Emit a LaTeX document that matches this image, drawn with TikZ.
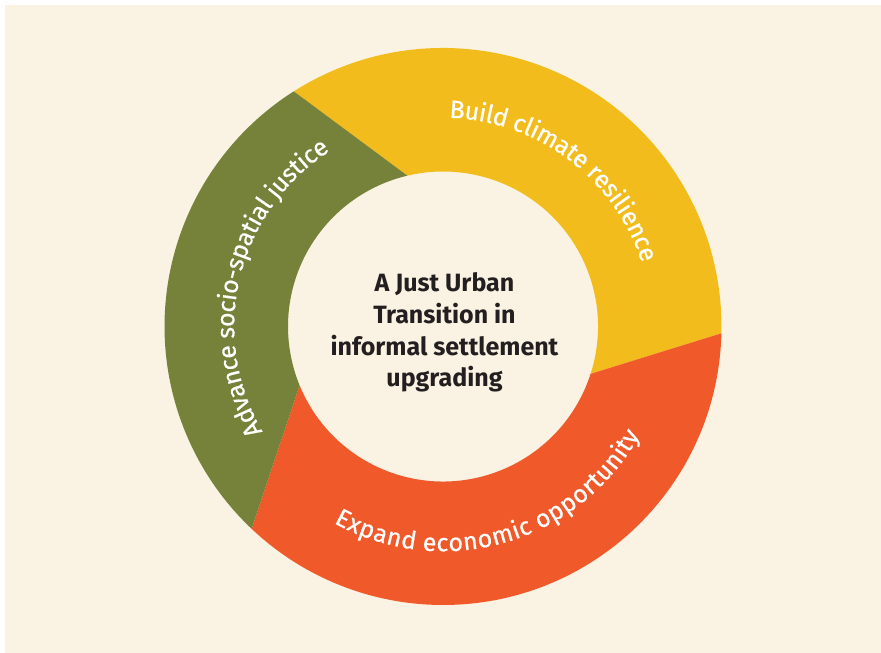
\documentclass[tikz,border=0pt]{standalone}
\usepackage{fontspec}
\setmainfont{Fira Sans}[Ligatures={NoCommon}]
\newfontfamily\ringfam{Fira Sans}[Ligatures={NoCommon},FakeBold=0.5]
\usetikzlibrary{calc,decorations.text}
\definecolor{creambg}{HTML}{FAF2E2}
\definecolor{ringyellow}{HTML}{F2BD1C}
\definecolor{ringorange}{HTML}{F05A2A}
\definecolor{ringgreen}{HTML}{76813A}
\definecolor{darktext}{HTML}{231F20}
\newcommand\myringfont{\ringfam\fontsize{25}{28}\selectfont}
\tikzset{
  ringlabel/.style={decorate, decoration={text along path, text={#1}, text align=center, raise=-8pt, text color=white}},
}
\begin{document}
\begin{tikzpicture}[x=1pt,y=1pt]
\useasboundingbox (0,0) rectangle (881,653);
\fill[white] (0,0) rectangle (881,653);
\fill[creambg] (5,0) rectangle (881,647.5);
\coordinate (c) at (443,326.5);
% yellow
\fill[ringyellow] ($(c)+(122.4:278.5pt)$) arc[start angle=122.4, end angle=-1.4, radius=278.5pt]
  -- ($(c)+(-17.8:155pt)$) arc[start angle=-17.8, end angle=103.3, radius=155pt] -- cycle;
% orange
\fill[ringorange] ($(c)+(-1.4:278.5pt)$) arc[start angle=-1.4, end angle=-133.4, radius=278.5pt]
  -- ($(c)+(-157.7:155pt)$) arc[start angle=-157.7, end angle=-17.8, radius=155pt] -- cycle;
% green
\fill[ringgreen] ($(c)+(226.6:278.5pt)$) arc[start angle=226.6, end angle=122.4, radius=278.5pt]
  -- ($(c)+(103.3:155pt)$) arc[start angle=103.3, end angle=202.3, radius=155pt] -- cycle;
% ring labels
\path[ringlabel={|\myringfont|Build climate resilience}] ($(c)+(133:216.75pt)$) arc[start angle=133, end angle=-27, radius=216.75pt];
\path[ringlabel={|\myringfont|Advance socio-spatial justice}] ($(c)+(246.5:216.75pt)$) arc[start angle=246.5, end angle=86.5, radius=216.75pt];
\path[ringlabel={|\myringfont|Expand economic opportunity}] ($(c)+(206:216.75pt)$) arc[start angle=206, end angle=366, radius=216.75pt];
% centre
\node[align=center, text=darktext, font=\bfseries\fontsize{25}{31.7}\selectfont] (title) at ($(c)+(1.5,-6)$) {A Just Urban\\Transition in\\informal settlement\\upgrading};
\end{tikzpicture}
\end{document}
